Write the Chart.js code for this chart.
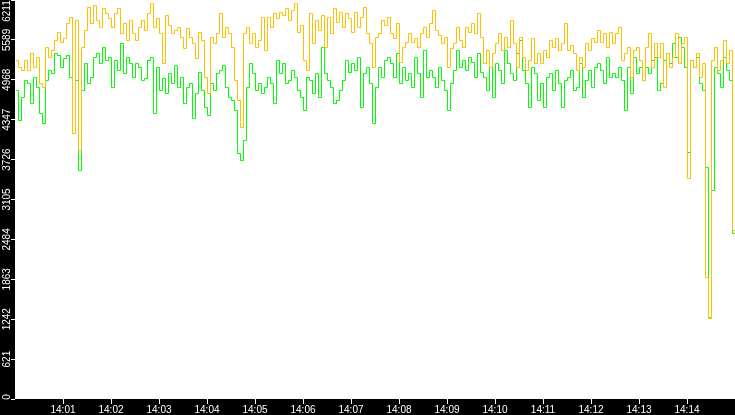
<!DOCTYPE html>
<html>
<head>
<meta charset="utf-8">
<script src="https://cdn.jsdelivr.net/npm/chart.js@4"></script>
<style>
  html, body { margin: 0; padding: 0; background: #000; }
  canvas { display: block; }
</style>
</head>
<body>
<canvas id="grafico" width="735" height="415"></canvas>
<script>
// one sample every 3.75 s, starting at 14:00:00
const sampleSeconds = 3.75;

const orangeValues = [
  5277, 5168, 5121, 5277, 5121, 5386, 5168, 5324, 4919, 4857,
  5479, 5324, 5433, 5588, 5713, 5557, 5620, 5853, 5946, 4141,
  5900, 3876, 5479, 5744, 6102, 5853, 6133, 5900, 5791, 6086,
  6009, 5931, 5791, 6009, 6086, 5697, 5853, 5588, 5900, 5697,
  5588, 5791, 5900, 5744, 6009, 6164, 5791, 5931, 5697, 5230,
  5978, 5822, 5697, 5744, 5791, 5635, 5464, 5775, 5635, 5542,
  5308, 5713, 5588, 5012, 4763, 5635, 5542, 5697, 6009, 5635,
  5791, 5697, 5479, 4966, 4654, 4234, 5697, 5791, 5542, 5697,
  5479, 5588, 5946, 5433, 5946, 5791, 6009, 5931, 6024, 5978,
  6086, 5900, 6055, 6164, 5713, 5822, 5277, 5121, 6009, 5542,
  5900, 5744, 5978, 5479, 5946, 5697, 6086, 5869, 6024, 5791,
  6009, 5931, 5713, 6024, 5791, 5946, 6102, 5697, 5542, 5168,
  5635, 5697, 5900, 5822, 5946, 5697, 5620, 5853, 5246, 5479,
  5557, 5697, 5557, 5620, 5479, 5697, 5791, 5635, 5853, 6055,
  5744, 5666, 5542, 5635, 5168, 5464, 5542, 5791, 5588, 5479,
  5791, 5713, 5853, 5697, 6009, 5635, 5230, 5433, 5168, 5386,
  5542, 5697, 5433, 5635, 5479, 5900, 5542, 5168, 5635, 5324,
  5121, 5277, 5620, 5230, 5386, 5230, 5433, 5324, 5588, 5479,
  5620, 5433, 5542, 5853, 5433, 5511, 5386, 5121, 5324, 5168,
  5542, 5433, 5620, 5557, 5744, 5557, 5697, 5479, 5713, 5542,
  5697, 5791, 5277, 5386, 5479, 5012, 5433, 5479, 5277, 4966,
  5479, 5697, 5168, 5542, 5324, 5542, 4857, 5386, 5168, 5324,
  5697, 5230, 5542, 5635, 3440, 5277, 5168, 5386, 5012, 5230,
  1899, 1261, 5277, 5479, 5121, 5277, 5588, 5230, 5433, 2631,
  0
];

const greenValues = [
  4810, 4343, 4701, 4966, 4919, 4608, 5012, 4857, 4452, 4296,
  4966, 5121, 5075, 5386, 5355, 5168, 5308, 5355, 5012, 4141,
  4966, 3565, 4810, 5230, 4919, 5012, 5324, 5386, 5230, 5479,
  5277, 5324, 4857, 5277, 5121, 5542, 5075, 5324, 5230, 5012,
  5230, 5168, 4966, 4997, 5277, 5324, 4452, 5168, 4810, 4997,
  4763, 5075, 4919, 5199, 4857, 5012, 4608, 4857, 4919, 4374,
  4763, 5090, 4810, 4545, 4421, 4919, 4810, 5075, 5121, 5199,
  4857, 4701, 4654, 4499, 3829, 3720, 4032, 4857, 5230, 5075,
  4810, 4919, 4763, 4857, 5012, 4919, 4608, 5277, 5075, 5230,
  4919, 4966, 5121, 5012, 4810, 4701, 4499, 5012, 4966, 4763,
  5075, 4701, 5479, 5075, 4966, 4857, 4608, 4654, 4810, 4966,
  5277, 5090, 5230, 5121, 5324, 4545, 5075, 5168, 4919, 4296,
  4857, 5168, 5012, 5277, 5324, 5230, 5012, 5386, 4919, 5168,
  4966, 5075, 4857, 5324, 5075, 4701, 5433, 5012, 5121, 5012,
  4857, 5168, 4966, 4810, 4499, 4919, 5121, 5433, 5168, 5277,
  5121, 5324, 5246, 5012, 5386, 5090, 5012, 4810, 5168, 4701,
  5230, 5121, 4919, 5433, 5230, 5075, 4966, 5386, 5588, 5121,
  4919, 4545, 5168, 5075, 4654, 4919, 4545, 5012, 5075, 4810,
  5121, 4919, 4545, 4966, 5012, 5121, 4810, 4857, 5230, 4701,
  4966, 5121, 4857, 5168, 5230, 5121, 4919, 5324, 5012, 5075,
  5012, 5168, 4966, 4499, 5168, 4763, 5324, 5075, 5168, 4966,
  5168, 5075, 5277, 5324, 4810, 4919, 5277, 5386, 5230, 5542,
  5324, 5635, 5479, 5168, 3845, 5277, 5168, 5324, 4919, 4810,
  3611, 1276, 3253, 5168, 5075, 4857, 5324, 5121, 4966, 2585,
  2585
];

const xTickSeconds = [60, 120, 180, 240, 300, 360, 420, 480, 540, 600, 660, 720, 780, 840];
const xTickLabels = ["14:01", "14:02", "14:03", "14:04", "14:05", "14:06", "14:07",
                     "14:08", "14:09", "14:10", "14:11", "14:12", "14:13", "14:14"];

const yTickValues = [0, 621.1, 1242.2, 1863.3, 2484.4, 3105.5, 3726.6, 4347.7, 4968.8, 5589.9, 6211];
const yTickLabels = ["0", "621", "1242", "1863", "2484", "3105", "3726", "4347", "4968", "5589", "6211"];

const toPoints = vals => vals.map((v, i) => ({ x: i * sampleSeconds, y: v }));

// black frame, white plot area
const fundo = {
  id: "fundo",
  beforeDraw(chart) {
    const { ctx, chartArea: a } = chart;
    ctx.save();
    ctx.fillStyle = "#000";
    ctx.fillRect(0, 0, chart.width, chart.height);
    ctx.fillStyle = "#fff";
    ctx.fillRect(a.left, a.top, a.right - a.left, a.bottom - a.top);
    ctx.restore();
  }
};

// keep the top/bottom y labels inside the canvas
const ajustaRotulos = {
  id: "ajustaRotulos",
  beforeDraw(chart) {
    const items = chart.scales.y.getLabelItems();
    if (items._ajustado) return;
    items[items.length - 1].options.translation[1] += 11;
    items[0].options.translation[1] -= 2;
    items._ajustado = true;
  }
};

// half-pixel shift so the 1px vertical strokes stay crisp
const linhaNitida = {
  id: "linhaNitida",
  beforeDatasetsDraw(chart) { chart.ctx.save(); chart.ctx.translate(0.5, 0.5); },
  afterDatasetsDraw(chart) { chart.ctx.restore(); }
};

const fonte = { family: "Liberation Sans", size: 10 };

new Chart(document.getElementById("grafico"), {
  type: "line",
  data: {
    datasets: [
      { data: toPoints(orangeValues), borderColor: "#ffc000", borderWidth: 1, pointRadius: 0, stepped: true },
      { data: toPoints(greenValues), borderColor: "#00ff00", borderWidth: 1, pointRadius: 0, stepped: true }
    ]
  },
  options: {
    responsive: false,
    animation: false,
    events: [],
    devicePixelRatio: 1,
    layout: { padding: 0 },
    plugins: { legend: { display: false }, tooltip: { enabled: false } },
    scales: {
      x: {
        type: "linear", min: 0, max: 900,
        afterBuildTicks: s => { s.ticks = xTickSeconds.map(v => ({ value: v })); },
        afterFit: s => { s.height = 16; },
        ticks: { color: "#fff", font: fonte, padding: 0, maxRotation: 0, autoSkip: false,
                 callback: (v, i) => xTickLabels[i] },
        grid: { drawOnChartArea: false, tickLength: 5, tickColor: "#fff" },
        border: { display: false }
      },
      y: {
        type: "linear", min: 0, max: 6211,
        afterBuildTicks: s => { s.ticks = yTickValues.map(v => ({ value: v })); },
        afterFit: s => { s.width = 15; s.paddingTop = 0; s.paddingBottom = 0; },
        ticks: { color: "#fff", font: fonte, minRotation: 90, maxRotation: 90, crossAlign: "center",
                 padding: -7, autoSkip: false, callback: (v, i) => yTickLabels[i] },
        grid: { drawOnChartArea: false, tickLength: 4, tickColor: "#fff" },
        border: { display: false }
      }
    }
  },
  plugins: [fundo, ajustaRotulos, linhaNitida]
});
</script>
</body>
</html>
